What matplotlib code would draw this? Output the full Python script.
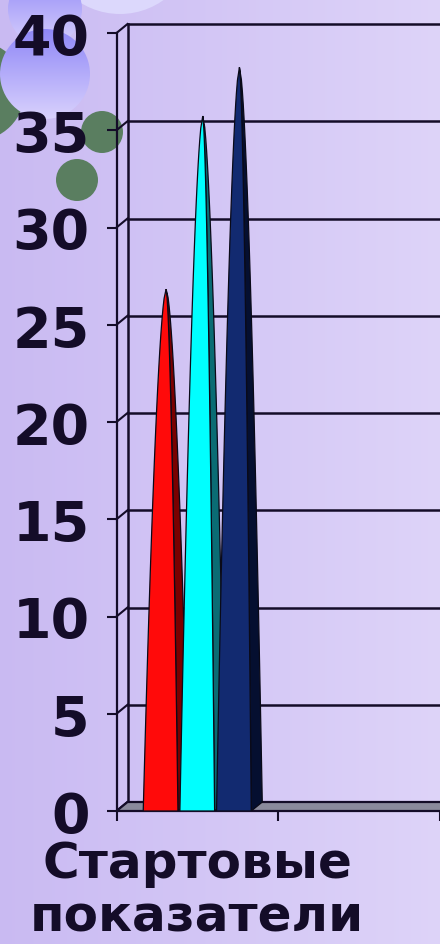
"""3D-style pyramid column chart: starting indicators (three series)."""
import matplotlib

matplotlib.use("Agg")
import matplotlib.pyplot as plt
import numpy as np
from matplotlib.patches import Circle, Polygon
from matplotlib.transforms import offset_copy

categories = ["Стартовые\nпоказатели"]
series_values = [26.6, 35.5, 38.0]
series_front = ["#ff0a0a", "#00ffff", "#122a70"]
series_side = ["#7a0000", "#0a6c74", "#050f30"]
y_ticks = [0, 5, 10, 15, 20, 25, 30, 35, 40]

# slide decoration (pixel coords): (x, y, r, kind)
decor = [
    (120, -60, 75, "pale"),
    (-25, 92, 50, "green"),
    (45, 10, 37, "blue"),
    (45, 75, 45, "blue"),
    (102, 133, 21, "green"),
    (77, 181, 21, "green"),
]

INK = "#140c28"
DEPTH = np.array([11.0, 9.0])  # px offset of the back wall

fig = plt.figure(figsize=(4.4, 9.45), dpi=100)

# background gradient + decoration
bg = fig.add_axes([0, 0, 1, 1])
bg.set_axis_off()
c0 = np.array([0.79, 0.73, 0.95])
c1 = np.array([0.87, 0.83, 0.975])
t = np.linspace(0, 1, 256)
grad = (c0[None, :] * (1 - t[:, None]) + c1[None, :] * t[:, None])[None, :, :]
bg.imshow(grad, extent=(0, 440, 945, 0), aspect="auto", zorder=0)
for x, y, r, kind in decor:
    if kind == "green":
        bg.add_patch(Circle((x, y), r, color="#5a7e60", lw=0, zorder=1))
    elif kind == "pale":
        bg.add_patch(Circle((x, y), r, color="#dcd8fc", lw=0, zorder=1))
    else:
        circ = Circle((x, y), r, color="none", lw=0)
        bg.add_patch(circ)
        vg = np.linspace(0, 1, 128)
        cols = (np.array([0.56, 0.53, 0.97])[None, :] * (1 - vg[:, None])
                + np.array([0.85, 0.82, 0.99])[None, :] * vg[:, None])[:, None, :]
        im = bg.imshow(cols, extent=(x - r, x + r, y + r, y - r), aspect="auto", zorder=1)
        im.set_clip_path(circ)
bg.set_xlim(0, 440)
bg.set_ylim(945, 0)

ax = fig.add_axes([116.5 / 440, 133 / 945, 323 / 440, 778 / 945])
ax.patch.set_alpha(0)
ax.set_xlim(0, 2)
ax.set_ylim(0, 40)

back = offset_copy(ax.transData, fig=fig, x=DEPTH[0], y=DEPTH[1], units="dots")


def shifted(x, y, k=1.0):
    px, py = ax.transData.transform((x, y))
    return tuple(ax.transData.inverted().transform((px + k * DEPTH[0], py + k * DEPTH[1])))


# back wall
for v in y_ticks[1:]:
    ax.plot([0, 2.1], [v, v], transform=back, color=INK, lw=1.8, clip_on=False, zorder=1)
ax.plot([0, 0], [0, 40], transform=back, color=INK, lw=1.8, clip_on=False, zorder=1)
for v in y_ticks:
    bx, by = shifted(0, v)
    ax.plot([0, bx], [v, by], color=INK, lw=1.5, clip_on=False, zorder=1)

# floor
floor = Polygon([(0, 0), (2.1, 0), shifted(2.1, 0), shifted(0, 0)], closed=True,
                facecolor="#8a8a9c", edgecolor=INK, lw=1.6, clip_on=False, zorder=2)
ax.add_patch(floor)

# pyramids: square cross-section shrinking towards the apex
width = 0.215
n = len(series_values)
frac = np.linspace(0, 1, 60)
for i, (val, fc, sc) in enumerate(zip(series_values, series_front, series_side)):
    c = 0.5 + (i - (n - 1) / 2) * 0.227
    hs = frac * val
    s = (1 - frac) ** 0.6
    fl = [shifted(c - s_ * width / 2, h, 0.5 - s_ / 2) for h, s_ in zip(hs, s)]
    fr = [shifted(c + s_ * width / 2, h, 0.5 - s_ / 2) for h, s_ in zip(hs, s)]
    br = [shifted(c + s_ * width / 2, h, 0.5 + s_ / 2) for h, s_ in zip(hs, s)]
    side = Polygon(fr + br[::-1], closed=True, facecolor=sc,
                   edgecolor="#0a0a18", lw=0.9, zorder=3 + i)
    front = Polygon(fl + fr[::-1], closed=True, facecolor=fc,
                    edgecolor="#0a0a18", lw=0.9, zorder=3 + i)
    ax.add_patch(side)
    ax.add_patch(front)

for sp in ["top", "right", "bottom"]:
    ax.spines[sp].set_visible(False)
ax.spines["left"].set_color(INK)
ax.spines["left"].set_linewidth(1.6)
ax.spines["left"].set_bounds(0, 40)

ax.set_yticks(y_ticks)
ax.set_yticklabels([str(v) for v in y_ticks], fontsize=40, fontweight="bold",
                   color=INK, family="DejaVu Sans")
ax.tick_params(axis="y", length=7.2, width=1.5, color=INK, pad=12)

ax.set_xticks([0, 1, 2])
ax.set_xticklabels(["", "", ""])
ax.tick_params(axis="x", which="major", length=7.2, width=1.5, color=INK)
ax.set_xticks([0.5], minor=True)
ax.set_xticklabels(categories, minor=True, fontsize=36, fontweight="bold",
                   color=INK, family="DejaVu Sans", linespacing=1.16)
ax.tick_params(axis="x", which="minor", length=0, pad=20)

fig.savefig("out.png", dpi=100)
